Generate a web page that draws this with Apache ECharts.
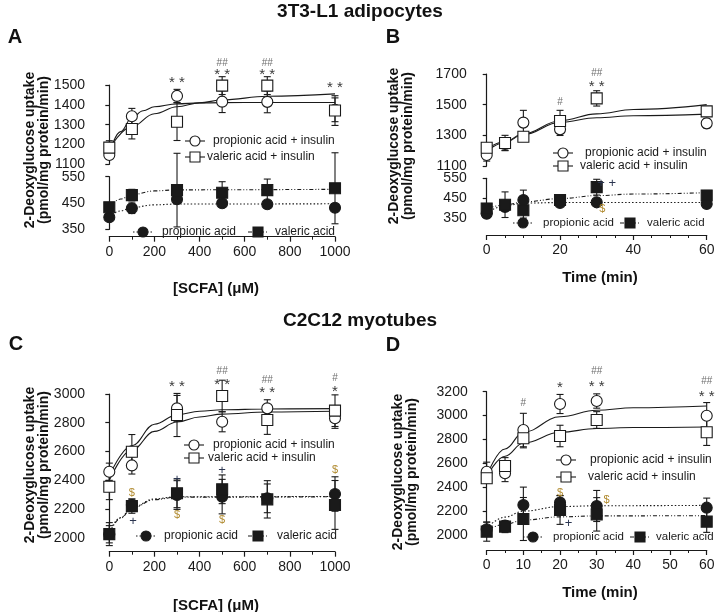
<!DOCTYPE html>
<html><head><meta charset="utf-8">
<script src="https://cdn.jsdelivr.net/npm/echarts@6/dist/echarts.min.js"></script>
<style>html,body{margin:0;padding:0;background:#fff}#c{width:720px;height:612px}</style>
</head><body><div id="c"></div>
<script>
// ---------- DATA ----------
const doseX = [0, 100, 300, 500, 700, 1000];
const timeX = [0, 5, 10, 20, 30, 60];

// Panel A (3T3-L1, dose)
const aPropIns = [1147, 1342, 1445, 1416, 1415, 1375];
const aPropInsErr = [15, 40, 33, 55, 55, 60];
const aValIns = [1184, 1278, 1315, 1497, 1497, 1371];
const aValInsErr = [35, 50, 95, 45, 45, 75];
const aProp = [396, 430, 464, 449, 445, 432];
const aPropErr = [10, 20, 12, 8, 8, 10];
const aVal = [434, 480, 499, 489, 499, 506];
const aValErr = [10, 22, 140, 42, 42, 135];
const aFitPropIns = [[0,1160],[50,1265],[100,1335],[150,1370],[200,1390],[300,1405],[400,1410],[600,1412],[1000,1412]];
const aFitValIns = [[0,1180],[100,1290],[200,1355],[300,1390],[400,1410],[500,1425],[700,1443],[1000,1455]];
const aFitProp = [[0,398],[50,420],[100,433],[200,443],[300,446],[1000,447]];
const aFitVal = [[0,435],[50,465],[100,482],[200,496],[300,500],[1000,502]];

// Panel B (3T3-L1, time)
const bPropIns = [1172, 1243, 1383, 1339, null, 1378];
const bPropInsErr = [40, 40, 80, 40, 0, 30];
const bValIns = [1219, 1250, 1291, 1393, 1541, 1456];
const bValInsErr = [20, 50, 30, 70, 50, 20];
const bProp = [370, 405, 440, 425, 428, 420];
const bPropErr = [15, 20, 50, 10, 10, 10];
const bVal = [397, 416, 388, 440, 505, 463];
const bValErr = [25, 65, 40, 15, 40, 25];
const bFitPropIns = [[0,1195],[5,1255],[10,1305],[20,1385],[30,1415],[40,1428],[60,1438]];
const bFitValIns = [[0,1210],[5,1260],[10,1310],[20,1395],[30,1440],[40,1468],[60,1500]];
const bFitProp = [[0,375],[5,410],[10,424],[20,427],[60,427]];
const bFitVal = [[0,395],[5,415],[10,430],[20,447],[30,462],[40,470],[60,477]];

// Panel C (C2C12, dose)
const cPropIns = [2459, 2503, 2900, 2807, 2900, 2831];
const cPropInsErr = [60, 60, 90, 70, 60, 70];
const cValIns = [2355, 2598, 2854, 2986, 2819, 2884];
const cValInsErr = [90, 120, 150, 110, 100, 110];
const cProp = [2024, 2228, 2297, 2286, 2274, 2304];
const cPropErr = [60, 40, 100, 120, 100, 120];
const cVal = [2025, 2220, 2309, 2337, 2267, 2228];
const cValErr = [80, 50, 100, 100, 130, 170];
const cFitPropIns = [[0,2400],[100,2610],[200,2740],[300,2805],[400,2840],[500,2860],[700,2875],[1000,2880]];
const cFitValIns = [[0,2430],[100,2640],[200,2790],[300,2855],[400,2880],[500,2890],[700,2896],[1000,2898]];
const cFitProp = [[0,2040],[50,2140],[100,2210],[200,2270],[300,2285],[1000,2287]];
const cFitVal = [[0,2030],[50,2135],[100,2205],[200,2265],[300,2282],[1000,2285]];

// Panel D (C2C12, time)
const dPropIns = [2530, 2517, 2879, 3097, 3122, 2999];
const dPropInsErr = [80, 70, 140, 80, 60, 110];
const dValIns = [2475, 2578, 2810, 2829, 2963, 2860];
const dValInsErr = [40, 70, 80, 90, 70, 110];
const dProp = [2048, 2080, 2251, 2271, 2243, 2229];
const dPropErr = [60, 0, 150, 60, 130, 80];
const dVal = [2028, 2070, 2134, 2209, 2173, 2112];
const dValErr = [80, 50, 180, 120, 140, 90];
const dFitPropIns = [[0,2500],[5,2720],[10,2860],[20,2990],[30,3045],[40,3065],[60,3080]];
const dFitValIns = [[0,2490],[5,2660],[10,2770],[20,2860],[30,2892],[40,2900],[60,2905]];
const dFitProp = [[0,2060],[5,2150],[10,2200],[20,2238],[30,2245],[60,2248]];
const dFitVal = [[0,2040],[5,2090],[10,2125],[20,2152],[30,2160],[60,2162]];

// Significance marks [x, y, text]
const aStars = [[300,1510,'* *'],[500,1551,'* *'],[700,1551,'* *'],[1000,1485,'* *']];
const aHash = [[500,1612,'##'],[700,1612,'##']];
const bStars = [[30,1617,'* *']];
const bHash = [[20,1519,'#'],[30,1705,'##']];
const bPlus = [[32.7,525,'+ +']];
const bDollar = [[31.5,394,'$']];
const cStars = [[300,3051,'* *'],[500,3063,'* *'],[700,3005,'* *'],[1000,3016,'*']];
const cHash = [[500,3155,'##'],[700,3096,'##'],[1000,3109,'#']];
const cDollar = [[100,2309,'$'],[300,2158,'$'],[500,2123,'$'],[1000,2471,'$']];
const cPlus = [[105,2111,'+'],[300,2408,'+'],[500,2471,'+']];
const dStars = [[20,3229,'*'],[30,3242,'* *'],[60,3158,'* *']];
const dHash = [[10,3103,'#'],[30,3368,'##'],[60,3284,'##']];
const dDollar = [[20,2349,'$'],[32.7,2293,'$']];
const dPlus = [[22.3,2098,'+']];

// ---------- CHART ----------
const FONT = '"Liberation Sans", Arial, sans-serif';
const INK = '#1a1a1a';
const plain = v => String(v);

function xAxisDef(grid, min, max, interval, minorSplit, show, offset) {
  return {
    type: 'value', gridIndex: grid, min, max, interval, show,
    position: 'bottom', offset: offset || 0,
    splitLine: {show: false},
    axisLine: {show: true, lineStyle: {color: INK, width: 1.2}},
    axisTick: {show: true, length: 5, lineStyle: {color: INK, width: 1.2}},
    minorTick: {show: true, splitNumber: minorSplit, length: 3, lineStyle: {color: INK, width: 1}},
    axisLabel: {fontSize: 14, color: INK, fontFamily: FONT, margin: 8, formatter: plain}
  };
}
function yAxisDef(grid, min, max, interval, offset) {
  return {
    type: 'value', gridIndex: grid, min, max, interval,
    position: 'left', offset,
    splitLine: {show: false},
    axisLine: {show: true, lineStyle: {color: INK, width: 1.2}},
    axisTick: {show: true, length: 4, lineStyle: {color: INK, width: 1.2}},
    axisLabel: {fontSize: 14, color: INK, fontFamily: FONT, margin: 5, formatter: plain}
  };
}

function errSeries(ax, xs, ys, es) {
  const data = [];
  xs.forEach((x, i) => { if (ys[i] != null && es[i] > 0) data.push([x, ys[i], es[i]]); });
  return {
    type: 'custom', xAxisIndex: ax, yAxisIndex: ax, z: 2, silent: true, data,
    renderItem: (p, api) => {
      const x = api.value(0), y = api.value(1), e = api.value(2);
      const t = api.coord([x, y + e]), b = api.coord([x, y - e]);
      const w = 3.5, st = {stroke: INK, lineWidth: 1.1};
      return {type: 'group', children: [
        {type: 'line', shape: {x1: t[0], y1: t[1], x2: b[0], y2: b[1]}, style: st},
        {type: 'line', shape: {x1: t[0] - w, y1: t[1], x2: t[0] + w, y2: t[1]}, style: st},
        {type: 'line', shape: {x1: b[0] - w, y1: b[1], x2: b[0] + w, y2: b[1]}, style: st}
      ]};
    }
  };
}
function ptSeries(ax, xs, ys, symbol, filled, size) {
  return {
    type: 'scatter', xAxisIndex: ax, yAxisIndex: ax, z: 3, clip: false, silent: true,
    symbol, symbolSize: size,
    data: xs.map((x, i) => ys[i] == null ? null : [x, ys[i]]).filter(d => d),
    itemStyle: {color: filled ? INK : '#fff', borderColor: INK, borderWidth: 1.1, opacity: 1}
  };
}
function fitSeries(ax, pts, dash) {
  return {
    type: 'line', xAxisIndex: ax, yAxisIndex: ax, z: 1, silent: true,
    data: pts, showSymbol: false, symbol: 'none', smooth: 0.4, smoothMonotone: 'x',
    lineStyle: {color: INK, width: 1.1, type: dash || 'solid'}
  };
}
function annSeries(ax, arr, color, size) {
  return {
    type: 'custom', xAxisIndex: ax, yAxisIndex: ax, z: 5, silent: true,
    data: arr.map(a => [a[0], a[1]]),
    renderItem: (p, api) => {
      const pt = api.coord([api.value(0), api.value(1)]);
      return {type: 'text', x: pt[0], y: pt[1], style: {
        text: arr[p.dataIndex][2], font: size + 'px ' + FONT, fill: color,
        align: 'center', verticalAlign: 'middle'}};
    }
  };
}

const DOT = [1.5, 2];
const DASHDOT = [4, 2, 1, 2, 1, 2];
function panel(ax1, ax2, xs, pi, pie, vi, vie, p, pe, v, ve, fpi, fvi, fp, fv) {
  return [
    fitSeries(ax1, fpi), fitSeries(ax1, fvi),
    fitSeries(ax2, fp, DOT), fitSeries(ax2, fv, DASHDOT),
    errSeries(ax1, xs, pi, pie), errSeries(ax1, xs, vi, vie),
    errSeries(ax2, xs, p, pe), errSeries(ax2, xs, v, ve),
    ptSeries(ax1, xs, pi, 'circle', false, 11), ptSeries(ax1, xs, vi, 'rect', false, 11),
    ptSeries(ax2, xs, p, 'circle', true, 11), ptSeries(ax2, xs, v, 'rect', true, 11)
  ];
}

const STAR = '#3a3a3a', HASH = '#6e6e6e', DOL = '#b08a2e', PLUS = '#2b3550';

const series = [].concat(
  panel(0, 1, doseX, aPropIns, aPropInsErr, aValIns, aValInsErr, aProp, aPropErr, aVal, aValErr, aFitPropIns, aFitValIns, aFitProp, aFitVal),
  panel(2, 3, timeX, bPropIns, bPropInsErr, bValIns, bValInsErr, bProp, bPropErr, bVal, bValErr, bFitPropIns, bFitValIns, bFitProp, bFitVal),
  panel(4, 4, doseX, cPropIns, cPropInsErr, cValIns, cValInsErr, cProp, cPropErr, cVal, cValErr, cFitPropIns, cFitValIns, cFitProp, cFitVal),
  panel(5, 5, timeX, dPropIns, dPropInsErr, dValIns, dValInsErr, dProp, dPropErr, dVal, dValErr, dFitPropIns, dFitValIns, dFitProp, dFitVal),
  [
    annSeries(0, aStars, STAR, 15), annSeries(0, aHash, HASH, 10),
    annSeries(2, bStars, STAR, 15), annSeries(2, bHash, HASH, 10),
    annSeries(3, bPlus, PLUS, 13), annSeries(3, bDollar, DOL, 11),
    annSeries(4, cStars, STAR, 15), annSeries(4, cHash, HASH, 10),
    annSeries(4, cDollar, DOL, 11), annSeries(4, cPlus, PLUS, 13),
    annSeries(5, dStars, STAR, 15), annSeries(5, dHash, HASH, 10),
    annSeries(5, dDollar, DOL, 11), annSeries(5, dPlus, PLUS, 13)
  ]
);

// legend / text graphics
function legItem(cx, cy, shape, filled, dash, text, tx, fs) {
  const st = {fill: filled ? INK : '#fff', stroke: INK, lineWidth: 1.1};
  return [
    {type: 'line', z: 10, shape: {x1: cx - 10, y1: cy, x2: cx + 10, y2: cy}, style: {stroke: INK, lineWidth: 1.1, lineDash: dash || null}},
    shape === 'circle'
      ? {type: 'circle', z: 11, shape: {cx, cy, r: 5}, style: st}
      : {type: 'rect', z: 11, shape: {x: cx - 5, y: cy - 5, width: 10, height: 10}, style: st},
    {type: 'text', z: 11, x: tx, y: cy, style: {text, font: fs + 'px ' + FONT, fill: INK, align: 'left', verticalAlign: 'middle'}}
  ];
}
function txt(x, y, text, size, bold, rot, extra) {
  return Object.assign({type: 'text', z: 12, x, y, rotation: rot || 0, style: Object.assign({
    text, font: (bold ? 'bold ' : '') + size + 'px ' + FONT, fill: '#111',
    align: 'center', verticalAlign: 'middle'}, extra || {})});
}
const YT = '2-Deoxyglucose uptake\n(pmol/mg protein/min)';
const R = Math.PI / 2;
const graphic = [].concat(
  [txt(360, 12, '3T3-L1 adipocytes', 19, true), txt(360, 321, 'C2C12 myotubes', 19, true),
   txt(15, 37, 'A', 20, true), txt(393, 37, 'B', 20, true), txt(16, 344, 'C', 20, true), txt(393, 345, 'D', 20, true),
   txt(216, 289, '[SCFA] (\u03bcM)', 15, true), txt(600, 278, 'Time (min)', 15, true),
   txt(216, 606, '[SCFA] (\u03bcM)', 15, true), txt(600, 593, 'Time (min)', 15, true),
   txt(37, 150, YT, 14, true, R, {lineHeight: 14}),
   txt(401, 146, YT, 14, true, R, {lineHeight: 14}),
   txt(37, 465, YT, 14, true, R, {lineHeight: 14}),
   txt(405, 472, YT, 14, true, R, {lineHeight: 14})],
  legItem(195, 141, 'circle', false, null, 'propionic acid + insulin', 213, 12),
  legItem(195, 157, 'rect', false, null, 'valeric acid + insulin', 207, 12),
  legItem(143, 232, 'circle', true, DOT, 'propionic acid', 162, 12),
  legItem(258, 232, 'rect', true, DASHDOT, 'valeric acid', 275, 12),
  legItem(563, 153, 'circle', false, null, 'propionic acid + insulin', 585, 12),
  legItem(563, 166, 'rect', false, null, 'valeric acid + insulin', 580, 12),
  legItem(523, 223, 'circle', true, DOT, 'propionic acid', 543, 11.5),
  legItem(630, 223, 'rect', true, DASHDOT, 'valeric acid', 647, 11.5),
  legItem(194, 445, 'circle', false, null, 'propionic acid + insulin', 213, 12),
  legItem(194, 458, 'rect', false, null, 'valeric acid + insulin', 208, 12),
  legItem(146, 536, 'circle', true, DOT, 'propionic acid', 164, 12),
  legItem(258, 536, 'rect', true, DASHDOT, 'valeric acid', 277, 12),
  legItem(566, 460, 'circle', false, null, 'propionic acid + insulin', 590, 12),
  legItem(566, 477, 'rect', false, null, 'valeric acid + insulin', 588, 12),
  legItem(533, 537, 'circle', true, DOT, 'propionic acid', 553, 11.5),
  legItem(640, 537, 'rect', true, DASHDOT, 'valeric acid', 656, 11.5)
);

const G = (left, top, width, height) => ({left, top, width, height, containLabel: false, outerBoundsMode: 'none'});
const option = {
  animation: false,
  backgroundColor: '#fff',
  textStyle: {fontFamily: FONT},
  grid: [
    G(109.3, 85, 225.7, 79.3), G(109.3, 176.7, 225.7, 52.6),
    G(486.7, 74, 220, 92), G(486.7, 178.3, 220, 39.4),
    G(109.3, 394, 225.7, 143.7), G(486.7, 391.7, 220, 143.3)
  ],
  xAxis: [
    xAxisDef(0, 0, 1000, 200, 2, false), xAxisDef(1, 0, 1000, 200, 2, true, 7.4),
    xAxisDef(2, 0, 60, 20, 4, false), xAxisDef(3, 0, 60, 20, 4, true, 17.3),
    xAxisDef(4, 0, 1000, 200, 2, true, 14), xAxisDef(5, 0, 60, 10, 2, true, 15)
  ],
  yAxis: [
    yAxisDef(0, 1100, 1500, 100, 19.3), yAxisDef(1, 350, 550, 100, 19.3),
    yAxisDef(2, 1100, 1700, 200, 15), yAxisDef(3, 350, 550, 100, 15),
    yAxisDef(4, 2000, 3000, 200, 19.3), yAxisDef(5, 2000, 3200, 200, 14)
  ],
  series,
  graphic
};
const chart = echarts.init(document.getElementById('c'), null, {renderer: 'canvas'});
chart.setOption(option);
</script>
</body></html>
